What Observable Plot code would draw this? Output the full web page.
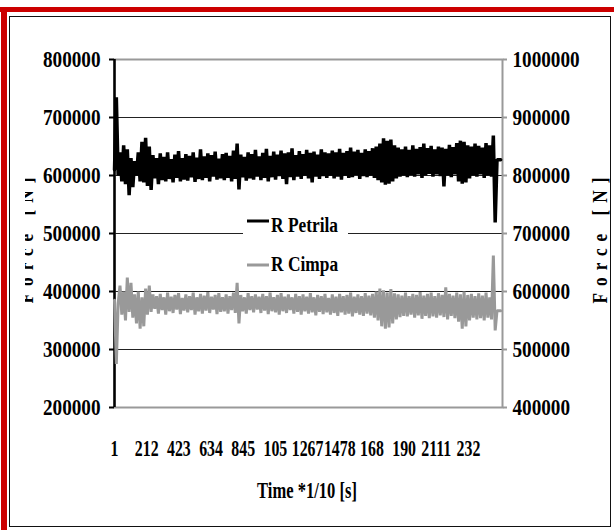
<!DOCTYPE html>
<html>
<head>
<meta charset="utf-8">
<script src="https://cdn.jsdelivr.net/npm/d3@7"></script>
<script src="https://cdn.jsdelivr.net/npm/@observablehq/plot@0.6"></script>
<style>
  body { margin: 0; background: white; }
  #wrap { position: relative; width: 614px; height: 530px; overflow: hidden; background: white; }
  .band { position: absolute; background: #cc0000; }
  #inner { position: absolute; left: 9px; top: 16px; width: 602px; height: 511px; border: 1px solid #111; box-sizing: border-box; }
  #chart { position: absolute; left: 0; top: 0; }
</style>
</head>
<body>
<div id="wrap">
  <div class="band" style="left:0;top:7px;width:614px;height:5px"></div>
  <div class="band" style="left:1px;top:7px;width:6px;height:523px"></div>
  <div id="inner"></div>
  <div id="chart"></div>
</div>
<script>
// ---- data (forces, in thousands of N; one sample every 12 time steps) ----
const SAMPLE_STEP = 12;
const petrilaKN = [
  610, 735, 600, 640, 590, 652, 585, 645, 566, 630, 580, 625, 600, 640, 590, 658, 588, 665, 582, 650,
  575, 635, 595, 630, 585, 638, 592, 632, 590, 640, 594, 628, 588, 636, 596, 642, 590, 630, 593, 637,
  591, 634, 597, 640, 589, 631, 594, 645, 592, 633, 596, 638, 590, 635, 598, 641, 593, 629, 595, 637,
  592, 639, 596, 634, 590, 643, 594, 655, 576, 636, 597, 632, 591, 640, 595, 637, 593, 644, 598, 633,
  592, 639, 596, 646, 590, 634, 597, 641, 593, 636, 599, 643, 594, 638, 585, 640, 597, 647, 592, 635,
  598, 642, 594, 637, 600, 644, 595, 639, 588, 641, 598, 636, 594, 645, 599, 640, 596, 638, 600, 643,
  595, 640, 598, 646, 593, 639, 600, 642, 596, 648, 597, 641, 601, 644, 594, 639, 599, 645, 597, 642,
  600, 647, 596, 650, 592, 655, 588, 664, 584, 660, 586, 662, 590, 652, 595, 648, 598, 645, 600, 650,
  597, 644, 601, 652, 598, 646, 602, 649, 596, 655, 600, 647, 603, 651, 598, 645, 602, 650, 599, 648,
  581, 646, 600, 653, 597, 649, 602, 656, 590, 660, 586, 658, 588, 652, 595, 650, 600, 655, 598, 651,
  602, 648, 596, 656, 600, 652, 598, 669, 519, 627, 627, 627
];
const cimpaKN = [
  385, 275, 380, 410, 360, 400, 350, 424, 365, 415, 355, 395, 345, 400, 336, 390, 340, 405, 360, 410,
  365, 395, 370, 392, 362, 396, 368, 390, 360, 398, 366, 391, 363, 394, 369, 397, 361, 389, 367, 395,
  364, 392, 368, 398, 360, 390, 366, 396, 362, 393, 367, 399, 363, 391, 369, 394, 361, 397, 365, 390,
  366, 395, 362, 392, 368, 398, 363, 415, 345, 394, 366, 390, 362, 397, 368, 392, 364, 395, 369, 391,
  363, 396, 367, 392, 361, 398, 366, 390, 364, 394, 360, 397, 366, 391, 363, 395, 368, 390, 362, 396,
  365, 392, 360, 395, 366, 391, 362, 397, 364, 390, 359, 394, 365, 392, 361, 396, 364, 389, 360, 395,
  363, 391, 358, 396, 364, 392, 360, 394, 362, 398, 357, 391, 363, 395, 360, 392, 358, 397, 362, 393,
  359, 396, 355, 400, 350, 405, 340, 402, 336, 398, 338, 404, 345, 397, 352, 395, 356, 393, 358, 398,
  357, 392, 360, 396, 355, 394, 359, 399, 353, 393, 358, 396, 354, 398, 357, 392, 355, 397, 359, 394,
  356, 407, 352, 396, 358, 393, 354, 398, 348, 395, 336, 400, 340, 394, 350, 396, 355, 392, 352, 397,
  354, 393, 350, 398, 355, 390, 352, 462, 333, 367, 367, 367
];
const seriesNames = ["R Petrila", "R Cimpa"];
const seriesColors = ["#000000", "#999999"];
const timeDomain = [1, 2545];
const xTickValues = [1, 212, 423, 634, 845, 1056, 1267, 1478, 1689, 1900, 2111, 2322];
const xTickLabels = ["1", "212", "423", "634", "845", "105", "1267", "1478", "168", "190", "2111", "232"];
const yTicksLeft = [200000, 300000, 400000, 500000, 600000, 700000, 800000];
const rightAxisOffset = 200000; // right axis = left axis + 200000
const yTitle = "Force [N]";
const xTitle = "Time *1/10 [s]";

const FONT = "'Liberation Serif', 'Times New Roman', 'DejaVu Serif', serif";

const toRows = arr => arr.map((v, i) => ({t: 1 + i * SAMPLE_STEP, f: v * 1000}));
const petrila = toRows(petrilaKN);
const cimpa = toRows(cimpaKN);

const plot = Plot.plot({
  width: 614, height: 530,
  marginLeft: 114, marginRight: 112, marginTop: 59, marginBottom: 123,
  style: {background: "transparent", fontFamily: FONT, overflow: "visible"},
  x: {domain: timeDomain, label: null},
  y: {domain: [yTicksLeft[0], yTicksLeft[yTicksLeft.length - 1]], label: null},
  marks: [
    Plot.ruleY(yTicksLeft.slice(1, -1), {stroke: "#222", strokeWidth: 1}),
    Plot.frame({stroke: "#999", strokeWidth: 2}),
    Plot.ruleX([timeDomain[0]], {stroke: "black", strokeWidth: 2.5}),
    Plot.axisY(yTicksLeft, {anchor: "left", label: null, tickSize: 5, tickPadding: 9,
      fontSize: 24, fontWeight: "bold", fill: "black", stroke: "black", strokeWidth: 2,
      tickFormat: d => String(d)}),
    Plot.axisY(yTicksLeft, {anchor: "right", label: null, tickSize: 4, tickPadding: 6,
      fontSize: 24, fontWeight: "bold", fill: "black", stroke: "#999", strokeWidth: 2,
      tickFormat: d => String(d + rightAxisOffset)}),
    Plot.axisX(xTickValues, {anchor: "bottom", label: null, tickSize: 0, tickPadding: 31,
      fontSize: 24, fontWeight: "bold", fill: "black",
      tickFormat: d => xTickLabels[xTickValues.indexOf(d)]}),
    Plot.line(cimpa, {x: "t", y: "f", stroke: seriesColors[1], strokeWidth: 3, strokeLinejoin: "miter"}),
    Plot.line(petrila, {x: "t", y: "f", stroke: seriesColors[0], strokeWidth: 3.5, strokeLinejoin: "miter"})
  ]
});
document.getElementById("chart").appendChild(plot);

// condensed look of the original font: squeeze text horizontally about its anchor
function squeeze(sel, s) {
  plot.querySelectorAll(sel).forEach(t => {
    const tr = t.getAttribute("transform") || "";
    const x = +(t.getAttribute("x") || 0);
    t.removeAttribute("x");
    t.setAttribute("transform", `${tr} translate(${x},0) scale(${s},1)`);
  });
}
squeeze('g[aria-label="y-axis tick label"] text', 0.8);
squeeze('g[aria-label="x-axis tick label"] text', 0.66);

const svg = d3.select(plot);
const defs = svg.append("defs");
defs.append("clipPath").attr("id", "ltclip").append("rect")
  .attr("x", 25).attr("y", 0).attr("width", 80).attr("height", 530);

const titleStyle = sel => sel
  .attr("font-family", FONT).attr("font-weight", "bold").attr("fill", "black");

// y titles
titleStyle(svg.append("g").attr("clip-path", "url(#ltclip)").append("text"))
  .attr("font-size", 22).attr("letter-spacing", "9px").attr("text-anchor", "middle")
  .attr("transform", "translate(33,237) rotate(-90) scale(0.78,1)")
  .text(yTitle);
titleStyle(svg.append("text"))
  .attr("font-size", 22).attr("letter-spacing", "9px").attr("text-anchor", "middle")
  .attr("transform", "translate(607,237) rotate(-90) scale(0.78,1)")
  .text(yTitle);

// x title
titleStyle(svg.append("text"))
  .attr("font-size", 24).attr("text-anchor", "middle")
  .attr("transform", "translate(307,498) scale(0.69,1)")
  .text(xTitle);

// legend
const lg = svg.append("g");
lg.append("rect").attr("x", 243).attr("y", 208).attr("width", 105).attr("height", 72).attr("fill", "white");
const legendRows = [{y: 221, base: 232}, {y: 265, base: 271}];
seriesNames.forEach((name, i) => {
  lg.append("line").attr("x1", 247).attr("x2", 269)
    .attr("y1", legendRows[i].y).attr("y2", legendRows[i].y)
    .attr("stroke", seriesColors[i]).attr("stroke-width", 3);
  titleStyle(lg.append("text"))
    .attr("font-size", 22).attr("text-anchor", "start")
    .attr("transform", `translate(271,${legendRows[i].base}) scale(0.79,1)`)
    .text(name);
});
</script>
</body>
</html>
